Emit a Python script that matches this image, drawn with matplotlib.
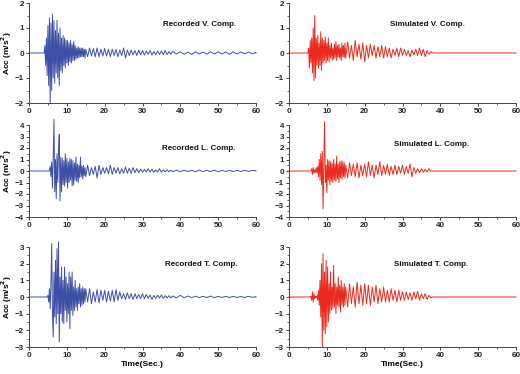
import numpy as np
import matplotlib
matplotlib.use("Agg")
import matplotlib.pyplot as plt
from matplotlib.ticker import MultipleLocator

plt.rcParams['font.family'] = ['Liberation Sans', 'DejaVu Sans']
plt.rcParams['font.weight'] = 'bold'

# ---- data: peak values ----
# each trace: onset time, part A sampled every 0.2 s, part B every 0.5 s,
# part C every 1.0 s (recorded tails only)
rec_v_onset = 4.2
rec_v_a = [0.3, -0.5, 0.6, -0.9, 1.1, -1.3, 1.4, -2.0, 1.2, -1.5,
           1.55, -1.0, 1.3, -1.2, 0.9, -0.8, 1.3, -1.0, 0.8, -1.3,
           1.0, -0.7, 0.6, -0.8, 0.7, -0.5, 0.6, -0.6, 0.5, -0.4,
           0.5, -0.5, 0.4, -0.35, 0.5, -0.4, 0.35, -0.3, 0.45, -0.3,
           0.3, -0.25, 0.2, -0.2, 0.25, -0.2, 0.2, -0.15, 0.2, -0.15,
           0.2, -0.15, 0.15, -0.2, 0.15]
rec_v_b = [-0.15, 0.2, -0.12, 0.18, -0.15, 0.2, -0.15, 0.15, -0.12, 0.18,
           -0.12, 0.15, -0.15, 0.15, -0.1, 0.15, -0.15, 0.12, -0.1, 0.2,
           -0.2, 0.12, -0.1, 0.12, -0.08, 0.1, -0.1, 0.12, -0.08, 0.1,
           -0.08, 0.08, -0.06, 0.1, -0.08, 0.06, -0.06, 0.08, -0.06, 0.08,
           -0.06, 0.1, -0.06, 0.05, -0.05, 0.06]
rec_v_c = [-0.04, 0.05, -0.05, 0.04, -0.06, 0.05, -0.04, 0.04, -0.05, 0.05, -0.04,
           0.05, -0.04, 0.04, -0.05, 0.05, -0.04, 0.04, -0.03, 0.04, -0.03, 0.02]

sim_v_onset = 5.2
sim_v_a = [0.2, -0.6, 0.5, -0.4, 0.6, -0.8, 1.0, -1.1, 1.5, -1.0,
           0.6, -0.5, 0.7, -0.6, 0.4, -0.5, 0.85, -0.7, 0.6, -0.4,
           0.5, -0.3, 0.65, -0.4, 0.4, -0.3, 0.6, -0.35, 0.3, -0.2,
           0.4, -0.3, 0.2, -0.25, 0.35, -0.2, 0.45, -0.3, 0.3, -0.15,
           0.35, -0.2, 0.2, -0.3, 0.4, -0.15, 0.3, -0.2, 0.4, -0.2]
sim_v_b = [0.45, -0.2, 0.3, -0.3, 0.5, -0.15, 0.35, -0.25, 0.4, -0.35,
           0.3, -0.2, 0.35, -0.1, 0.3, -0.2, 0.25, -0.15, 0.3, -0.2,
           0.25, -0.15, 0.2, -0.2, 0.15, -0.1, 0.2, -0.15, 0.2, -0.1,
           0.15, -0.1, 0.1, -0.15, 0.12, -0.08, 0.15, -0.1, 0.2, -0.1,
           0.15, -0.15, 0.1, -0.05, 0.05, 0.0]
sim_v_c = []

rec_l_onset = 5.6
rec_l_a = [0.4, -0.5, 0.8, -1.5, 1.2, 4.5, -1.8, 1.0, -2.4, 1.5,
           -1.0, 1.8, 3.2, -2.6, 1.2, -1.8, 1.1, -1.2, 0.9, -1.3,
           1.5, -1.0, 1.1, -1.5, 0.8, -1.0, 1.1, -0.8, 1.0, -1.3,
           0.9, -1.2, 0.7, -0.8, 1.2, -0.9, 0.6, -1.0, 0.5, -0.6,
           1.2, -0.5, 0.4, -0.7, 0.5, -0.4, 0.3, -0.5]
rec_l_b = [0.5, -0.4, 0.3, -0.3, 0.4, -0.6, 0.5, -0.3, 0.3, -0.2,
           0.3, -0.25, 0.5, -0.3, 0.3, -0.2, 0.3, -0.25, 0.2, -0.2,
           0.35, -0.2, 0.25, -0.2, 0.3, -0.15, 0.2, -0.15, 0.15, -0.1,
           0.15, -0.1, 0.2, -0.1, 0.15, -0.1, 0.1, -0.08, 0.2, -0.1,
           0.1, -0.08, 0.1, -0.06, 0.08, -0.06]
rec_l_c = [0.08, -0.06, 0.08, -0.05, 0.06, -0.06, 0.08, -0.05, 0.06, -0.05, 0.08,
           -0.06, 0.05, -0.05, 0.07, -0.05, 0.05, -0.04, 0.06, -0.04, 0.05, 0.02]

sim_l_onset = 6.0
sim_l_a = [0.2, -0.3, 0.3, -0.2, 0.1, -0.1, 0.3, -0.2, 0.4, -0.5,
           1.0, -0.8, 1.5, -1.2, 1.7, -3.3, 0.5, 4.3, -1.0, 0.5,
           -1.9, 1.0, -0.8, 0.9, -1.2, 0.8, -0.9, 0.7, -1.0, 1.0,
           -0.8, 0.6, -0.9, 1.3, -0.7, 0.6, -1.0, 0.8, -0.6, 0.9,
           -0.7, 0.8, -0.5, 0.7, -0.6, 0.5]
sim_l_b = [-0.6, 0.7, -0.4, 0.6, -0.5, 0.7, -0.6, 0.5, -0.4, 0.6,
           -0.5, 0.8, -0.4, 0.5, -0.6, 0.5, -0.3, 0.8, -0.4, 0.5,
           -0.3, 0.6, -0.4, 0.4, -0.3, 0.5, -0.3, 0.4, -0.2, 0.5,
           -0.3, 0.4, -0.2, 0.6, -0.5, 0.3, -0.2, 0.2, -0.15, 0.2,
           -0.1, 0.15, -0.1, 0.2, 0.0]
sim_l_c = []

rec_t_onset = 5.0
rec_t_a = [0.1, -0.3, 0.5, -0.7, 0.8, 3.2, -1.0, -2.4, 1.5, -1.2,
           2.2, -1.6, 2.9, -1.0, 3.3, -2.7, 1.2, -1.0, 1.8, -1.5,
           1.0, -1.6, 1.8, -0.8, 1.2, -1.5, 0.8, -1.0, 1.5, -1.9,
           1.2, -0.8, 1.5, -1.1, 0.6, -0.8, 1.0, -0.6, 0.5, -0.8,
           0.6, -0.4, 0.8, -0.6, 0.5, -0.5, 0.6, -0.4, 0.5, -0.3,
           0.5]
rec_t_b = [-0.3, 0.5, -0.4, 0.3, -0.3, 0.45, -0.35, 0.4, -0.2, 0.4,
           -0.3, 0.35, -0.25, 0.4, -0.3, 0.45, -0.2, 0.3, -0.1, 0.2,
           -0.15, 0.25, -0.1, 0.2, -0.15, 0.2, -0.1, 0.15, -0.1, 0.2,
           -0.1, 0.15, -0.08, 0.12, -0.15, 0.1, -0.08, 0.1, -0.06, 0.12,
           -0.08, 0.08, -0.06, 0.08, -0.06, 0.06]
rec_t_c = [-0.05, 0.1, -0.05, 0.06, -0.04, 0.05, -0.04, 0.04, -0.03, 0.06, -0.04,
           0.04, -0.03, 0.04, -0.03, 0.04, -0.03, 0.03, -0.03, 0.04, -0.02, 0.02]

sim_t_onset = 5.8
sim_t_a = [0.05, -0.2, 0.3, -0.3, 0.2, -0.1, 0.05, -0.05, 0.1, -0.2,
           0.4, -0.5, 1.0, -1.2, 2.0, -3.0, 2.6, -2.0, 1.5, -2.2,
           2.2, -1.8, 1.8, -1.5, 0.8, -1.0, 1.5, -0.8, 0.6, -0.7,
           1.9, -0.6, 0.8, -1.0, 0.6, -0.5, 1.2, -0.6, 0.7, -0.9,
           1.0, -0.5, 0.6, -0.6, 0.8, -0.5, 0.6]
sim_t_b = [-0.6, 0.8, -0.4, 0.6, -0.6, 0.9, -0.4, 0.7, -0.5, 0.8,
           -0.4, 0.7, -0.5, 0.6, -0.3, 0.7, -0.4, 0.5, -0.3, 0.6,
           -0.3, 0.4, -0.3, 0.5, -0.2, 0.4, -0.3, 0.4, -0.2, 0.3,
           -0.2, 0.3, -0.15, 0.25, -0.2, 0.3, -0.1, 0.35, -0.2, 0.2,
           -0.1, 0.2, -0.15, 0.1, -0.05, 0.0]
sim_t_c = []

titles = ["Recorded V. Comp.", "Simulated V. Comp.",
          "Recorded L. Comp.", "Simulated L. Comp.",
          "Recorded T. Comp.", "Simulated T. Comp."]
traces = [(rec_v_onset, rec_v_a, rec_v_b, rec_v_c),
          (sim_v_onset, sim_v_a, sim_v_b, sim_v_c),
          (rec_l_onset, rec_l_a, rec_l_b, rec_l_c),
          (sim_l_onset, sim_l_a, sim_l_b, sim_l_c),
          (rec_t_onset, rec_t_a, rec_t_b, rec_t_c),
          (sim_t_onset, sim_t_a, sim_t_b, sim_t_c)]
y_limits = [2, 2, 4, 4, 3, 3]


def build_trace(onset, a, b, c):
    ta = onset + 0.2 * np.arange(len(a))
    tb = ta[-1] + 0.5 * (1 + np.arange(len(b)))
    tc = tb[-1] + 1.0 * (1 + np.arange(len(c)))
    t = np.concatenate([[0.0, onset - 0.2], ta, tb, tc, [60.0]])
    v = np.concatenate([[0.0, 0.0], a, b, c, [0.0]])
    return t, v


blue = '#3d4fa6'
red = '#ea2a1c'

fig = plt.figure(figsize=(5.2, 3.74), dpi=100)
col_x = [29 / 520, 289 / 520]
ax_w = 227 / 520
rows = [(1 - 103 / 374, 100 / 374), (1 - 217 / 374, 92 / 374), (1 - 347 / 374, 100 / 374)]
title_pos = [(0.75, 0.79), (0.61, 0.79), (0.75, 0.75), (0.63, 0.79), (0.76, 0.82), (0.625, 0.82)]

for i, (trace, title, ylim) in enumerate(zip(traces, titles, y_limits)):
    r, c = divmod(i, 2)
    bottom, h = rows[r]
    ax = fig.add_axes([col_x[c], bottom, ax_w, h])
    t, v = build_trace(*trace)
    ax.plot(t, v, color=blue if c == 0 else red, lw=0.7, clip_on=False)
    ax.set_xlim(0, 60)
    ax.set_ylim(-ylim, ylim)
    ax.set_xticks(range(0, 61, 10))
    ax.set_yticks(range(-ylim, ylim + 1))
    ax.xaxis.set_minor_locator(MultipleLocator(5))
    ax.yaxis.set_minor_locator(MultipleLocator(0.5))
    for side in ['top', 'right']:
        ax.spines[side].set_visible(False)
    for side in ['left', 'bottom']:
        ax.spines[side].set_linewidth(0.7)
        ax.spines[side].set_color('#444444')
    ax.tick_params(which='major', length=2.5, width=0.6, labelsize=5.8, pad=1.2, colors='#222222')
    ax.tick_params(which='minor', length=1.5, width=0.5, colors='#222222')
    for lab in ax.get_xticklabels() + ax.get_yticklabels():
        lab.set_fontweight('bold')
    ax.text(title_pos[i][0], title_pos[i][1], title, transform=ax.transAxes,
            ha='center', va='center', fontsize=5.8, fontweight='bold', color='#111111')
    if c == 0:
        ax.set_ylabel('Acc (m/s$^\\mathbf{2}$)', fontsize=6, fontweight='bold')
        ax.yaxis.set_label_coords(-0.068, 0.5)
    if r == 2:
        ax.set_xlabel('Time(Sec.)', fontsize=6, fontweight='bold', labelpad=1)

fig.savefig('out.png', dpi=100)
